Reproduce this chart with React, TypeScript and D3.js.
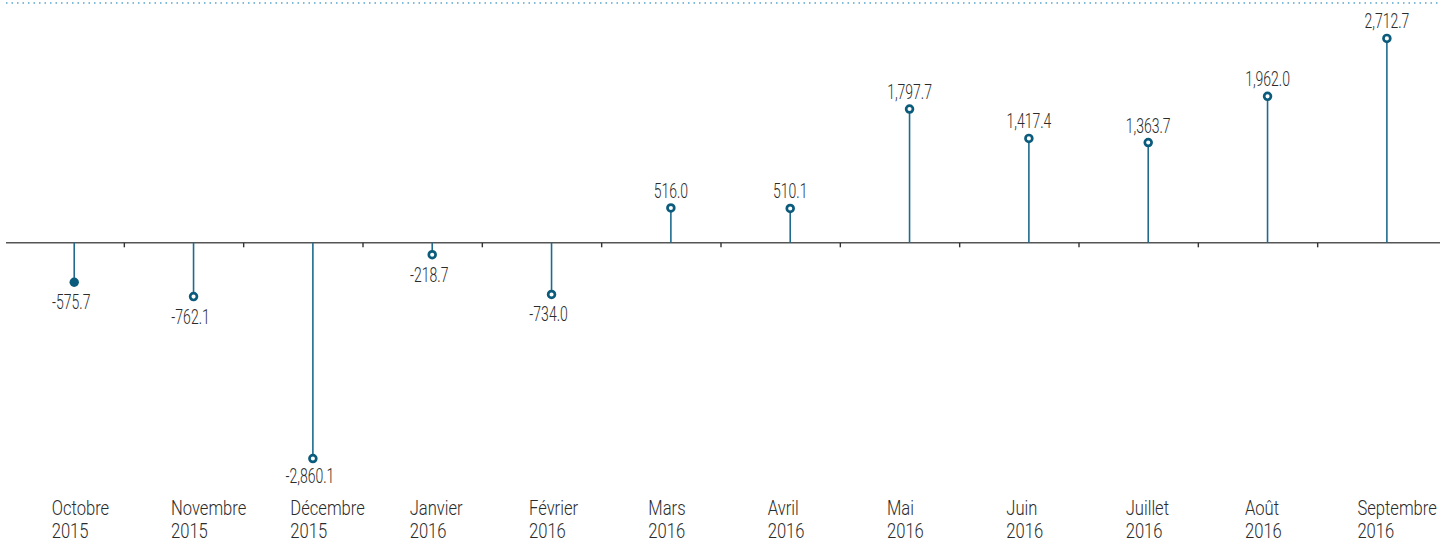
import React, { useEffect, useRef } from "react";
import * as d3 from "d3";

const months = ["Octobre", "Novembre", "Décembre", "Janvier", "Février", "Mars", "Avril", "Mai", "Juin", "Juillet", "Août", "Septembre"];
const years = ["2015", "2015", "2015", "2016", "2016", "2016", "2016", "2016", "2016", "2016", "2016", "2016"];
const values = [-575.7, -762.1, -2860.1, -218.7, -734.0, 516.0, 510.1, 1797.7, 1417.4, 1363.7, 1962.0, 2712.7];
const yDomain = [-3090, 3090];

const W = 1454;
const H = 544;
const FONT = "Roboto, 'Noto Sans', sans-serif";
const VAL_SX = 0.7;
const MON_SX = 0.79;

export default function App() {
  const ref = useRef<SVGSVGElement>(null);

  useEffect(() => {
    const svg = d3.select(ref.current);
    svg.selectAll("*").remove();

    const x = d3.scaleBand<string>().domain(months).range([5, 1437]).padding(0);
    const y = d3.scaleLinear().domain(yDomain).range([481.3, 4.3]);
    const bw = x.bandwidth();
    const fmt = d3.formatLocale({ decimal: ".", thousands: ",", grouping: [3], currency: ["", ""], minus: "-" }).format(",.1f");

    const data = months.map((m, i) => ({ m, year: years[i], v: values[i], i }));
    const cx = (d: any) => (x(d.m) as number) + bw * 0.58;
    const cy = (d: any) => y(d.v) + (d.v > 0 ? 5 : -5);
    const y0 = y(0);

    // top dotted rule
    svg.append("line")
      .attr("x1", 6).attr("x2", 1440).attr("y1", 3).attr("y2", 3)
      .attr("stroke", "#5aa6cf").attr("stroke-width", 1.5).attr("stroke-dasharray", "1.5,4");

    // axis line
    svg.append("line")
      .attr("x1", 6).attr("x2", 1440).attr("y1", y0).attr("y2", y0)
      .attr("stroke", "#555").attr("stroke-width", 1.6);

    // ticks at band boundaries
    svg.append("g").selectAll("line").data(months.slice(1)).join("line")
      .attr("x1", (m) => x(m) as number).attr("x2", (m) => x(m) as number)
      .attr("y1", y0).attr("y2", y0 + 4.5)
      .attr("stroke", "#333").attr("stroke-width", 1.4);

    // stems
    svg.append("g").selectAll("line").data(data).join("line")
      .attr("x1", cx).attr("x2", cx)
      .attr("y1", y0).attr("y2", cy)
      .attr("stroke", "#1f6b8e").attr("stroke-width", 1.6);

    // markers
    svg.append("g").selectAll("circle").data(data).join("circle")
      .attr("cx", cx).attr("cy", cy)
      .attr("r", (d) => (d.i === 0 ? 4.7 : 3.4))
      .attr("fill", (d) => (d.i === 0 ? "#0b5b7c" : "#fff"))
      .attr("stroke", "#0b5b7c")
      .attr("stroke-width", (d) => (d.i === 0 ? 0 : 2.7));

    // value labels
    const vl = svg.append("g").selectAll("g").data(data).join("g")
      .attr("transform", (d) => {
        const ty = d.v > 0 ? cy(d) - 10 : Math.min(cy(d) + 27, 483);
        const tx = cx(d) - (d.v < 0 ? 3 : 0);
        return `translate(${tx},${ty}) scale(${VAL_SX},1)`;
      });
    vl.append("text")
      .attr("text-anchor", "middle")
      .attr("font-family", FONT)
      .attr("font-weight", 300)
      .attr("font-size", 20)
      .attr("fill", "#2b2b2b")
      .text((d) => fmt(d.v));

    // month labels
    const mg = svg.append("g").selectAll("g").data(data).join("g");
    const mt = mg.append("text")
      .attr("font-family", FONT)
      .attr("font-weight", 300)
      .attr("font-size", 21)
      .attr("fill", "#2b2b2b")
      .attr("x", 0)
      .attr("y", 0);
    mt.append("tspan").attr("x", 0).text((d) => d.m);
    mt.append("tspan").attr("x", 0).attr("dy", 24).text((d) => d.year);
    mg.each(function (d: any) {
      const t = (this as SVGGElement).querySelector("text") as SVGTextElement;
      const w = t.getBBox().width * MON_SX;
      let tx = (x(d.m) as number) + 46.7;
      if (tx + w > 1437) tx = 1437 - w;
      d3.select(this).attr("transform", `translate(${tx},514.5) scale(${MON_SX},1)`);
    });
  }, []);

  return (
    <svg ref={ref} width={W} height={H} style={{ position: "absolute", left: 0, top: 0, display: "block" }} />
  );
}
